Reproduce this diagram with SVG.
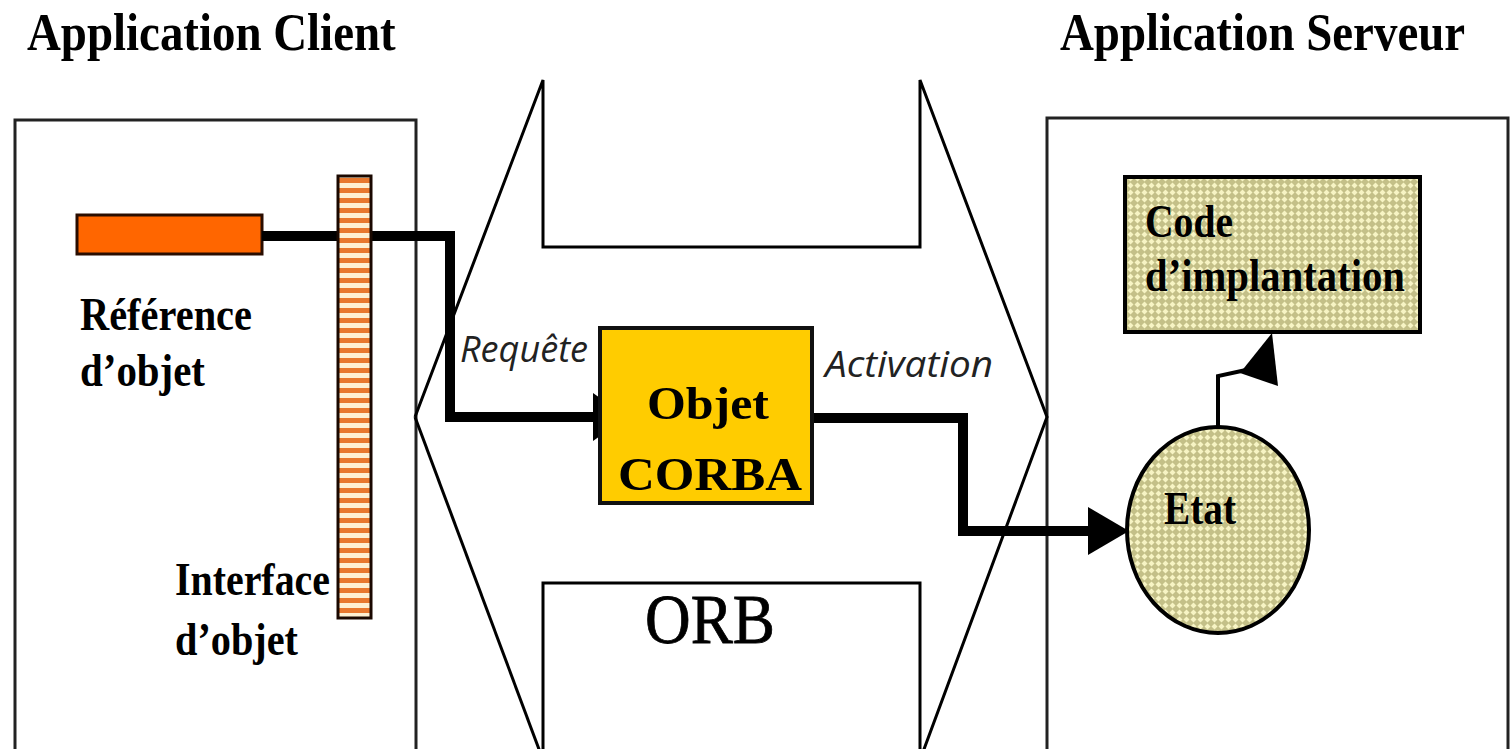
<svg xmlns="http://www.w3.org/2000/svg" width="1510" height="749" viewBox="0 0 1510 749">
  <style>
    .title { font-family: "Liberation Serif", "Times New Roman", serif; font-weight: bold; font-size: 53px; fill: #000; }
    .lbl { font-family: "Liberation Serif", "Times New Roman", serif; font-weight: bold; font-size: 47px; fill: #000; }
    .it { font-family: "Open Sans", "Noto Sans", sans-serif; font-style: italic; font-size: 37px; fill: #222; }
    .frame { fill: #fff; stroke: #222; stroke-width: 3; }
    .orb { fill: none; stroke: #000; stroke-width: 3; stroke-linejoin: miter; }
    .wire { fill: none; stroke: #000; stroke-width: 10; stroke-linejoin: miter; }
  </style>
  <defs>
    <pattern id="stripes" x="0" y="178" width="10" height="10" patternUnits="userSpaceOnUse">
      <rect width="10" height="10" fill="#FFF0D2"/>
      <rect width="10" height="5" fill="#E8782E"/>
    </pattern>
    <pattern id="checks" width="7" height="7" patternUnits="userSpaceOnUse">
      <rect width="7" height="7" fill="#C4C088"/>
      <polygon points="3.5,0.5 6.5,3.5 3.5,6.5 0.5,3.5" fill="#F7F4C4"/>
    </pattern>
  </defs>

  <!-- headings (horizontally condensed) -->
  <text class="title" transform="translate(27 50) scale(0.885 1)">Application Client</text>
  <text class="title" transform="translate(1060 50) scale(0.885 1)">Application Serveur</text>

  <!-- client application -->
  <g id="client">
    <rect class="frame" x="15" y="120" width="401" height="660"/>
    <text class="lbl" x="80" y="330" textLength="172" lengthAdjust="spacingAndGlyphs">Référence</text>
    <text class="lbl" x="80" y="386" textLength="125" lengthAdjust="spacingAndGlyphs">d’objet</text>
    <text class="lbl" x="175" y="595" textLength="155" lengthAdjust="spacingAndGlyphs">Interface</text>
    <text class="lbl" x="175" y="655" textLength="123" lengthAdjust="spacingAndGlyphs">d’objet</text>
  </g>

  <!-- server application -->
  <g id="server">
    <rect class="frame" x="1047" y="118" width="461" height="660"/>
  </g>

  <!-- ORB double arrow -->
  <g id="orb">
    <polyline class="orb" points="415,417 543,80 543,247 920,247 920,80 1047,417 920,760"/>
    <polyline class="orb" points="415,417 543,760"/>
    <polyline class="orb" points="543,760 543,583 920,583 920,760"/>
    <text x="710" y="643" text-anchor="middle" font-family="Liberation Serif, Times New Roman, serif" font-size="69" textLength="130" lengthAdjust="spacingAndGlyphs" fill="#000" stroke="#000" stroke-width="0.8">ORB</text>
  </g>

  <!-- object reference -->
  <g id="reference">
    <rect x="77" y="215" width="185" height="39" fill="#FF6600" stroke="#2a0d00" stroke-width="3"/>
  </g>

  <!-- connectors -->
  <g id="connectors">
    <polyline class="wire" points="262,236 450,236 450,417 597,417"/>
    <polygon points="593,393 627,417 593,441" fill="#000"/>
    <polyline class="wire" points="812,418 963,418 963,531 1092,531"/>
    <polygon points="1088,507 1129,531 1088,555" fill="#000"/>
    <polyline fill="none" stroke="#000" stroke-width="4" points="1218,428 1218,376 1246,370"/>
    <polygon points="1272,333 1240,373 1278,386" fill="#000"/>
  </g>

  <!-- object interface -->
  <g id="interface">
    <rect x="338" y="176" width="33" height="442" fill="url(#stripes)" stroke="#1a0800" stroke-width="3"/>
  </g>

  <!-- CORBA object -->
  <g id="corba">
    <rect x="600" y="328" width="212" height="175" fill="#FFCC00" stroke="#111" stroke-width="4"/>
    <text class="lbl" x="708" y="419" text-anchor="middle" font-size="59" textLength="122" lengthAdjust="spacingAndGlyphs">Objet</text>
    <text class="lbl" x="710" y="490" text-anchor="middle" font-size="57" textLength="184" lengthAdjust="spacingAndGlyphs">CORBA</text>
  </g>

  <text class="it" x="460" y="362" textLength="128" lengthAdjust="spacingAndGlyphs">Requête</text>
  <text class="it" x="825" y="377" textLength="168" lengthAdjust="spacingAndGlyphs">Activation</text>

  <!-- implementation code -->
  <g id="code">
    <rect x="1125" y="177" width="295" height="155" fill="url(#checks)" stroke="#000" stroke-width="4"/>
    <text class="lbl" x="1145" y="237" font-size="45" textLength="88" lengthAdjust="spacingAndGlyphs">Code</text>
    <text class="lbl" x="1145" y="291" font-size="45" textLength="260" lengthAdjust="spacingAndGlyphs">d’implantation</text>
  </g>

  <!-- state -->
  <g id="etat">
    <ellipse cx="1218" cy="530" rx="91" ry="103" fill="url(#checks)" stroke="#000" stroke-width="4"/>
    <text class="lbl" x="1164" y="524" font-size="43" textLength="72" lengthAdjust="spacingAndGlyphs">Etat</text>
  </g>
</svg>
